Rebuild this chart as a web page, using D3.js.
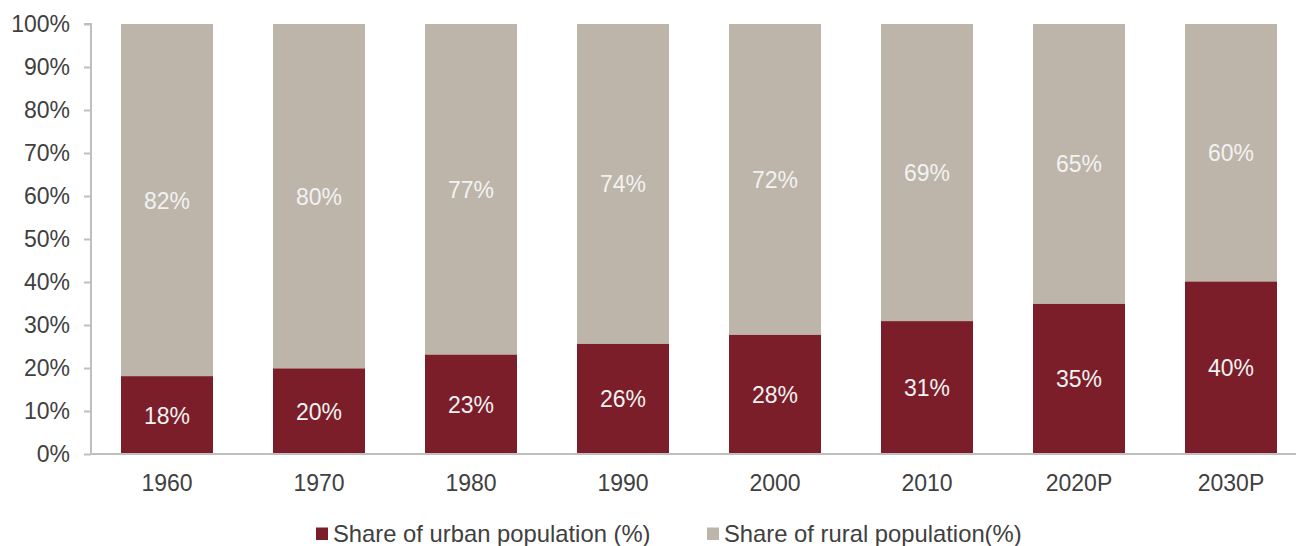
<!DOCTYPE html>
<html><head><meta charset="utf-8">
<script src="https://cdn.jsdelivr.net/npm/d3@7"></script>
<style>body{margin:0;background:#fff;} svg{display:block;font-family:"Liberation Sans",Arial,sans-serif;}</style>
</head><body>
<svg id="c" width="1296" height="546"></svg>
<script>
const categories = ["1960","1970","1980","1990","2000","2010","2020P","2030P"];
const urban = [18, 20, 23, 26, 28, 31, 35, 40];
const rural = [82, 80, 77, 74, 72, 69, 65, 60];
const urbanBar = [18.1, 19.9, 23.1, 25.6, 27.7, 30.9, 34.9, 40.1];
const yTicks = [0,10,20,30,40,50,60,70,80,90,100];
const seriesNames = ["Share of urban population (%)", "Share of rural population(%)"];
const colors = ["#7B1E29", "#BDB5AA"];

const svg = d3.select("#c");
const x0 = 91, step = 152;
const x = d3.scaleBand().domain(categories).range([x0, x0 + step*categories.length])
  .paddingInner(60/152).paddingOuter(30/152);
const y = d3.scaleLinear().domain([0,100]).range([454, 24]);

// y axis
const yAxis = svg.append("g").attr("transform", `translate(${x0},0)`)
  .call(d3.axisLeft(y).tickValues(yTicks).tickFormat(d => d + "%").tickSize(7).tickPadding(14));
yAxis.select(".domain").attr("stroke", "#BFBFBF").attr("stroke-width", 2).attr("d", `M-7,${y(100)}H0V${y(0)}`);
yAxis.selectAll(".tick line").attr("stroke", "#BFBFBF").attr("stroke-width", 2);
yAxis.selectAll(".tick text").attr("fill", "#404040").style("font-size", "23px");

// bars
const g = svg.append("g");
categories.forEach((c, i) => {
  const u = urbanBar[i];
  g.append("rect").attr("x", x(c)).attr("width", x.bandwidth())
    .attr("y", y(100)).attr("height", y(u) - y(100)).attr("fill", colors[1]);
  g.append("rect").attr("x", x(c)).attr("width", x.bandwidth())
    .attr("y", y(u)).attr("height", y(0) - y(u)).attr("fill", colors[0]);
  g.append("text").attr("x", x(c) + x.bandwidth()/2).attr("y", (y(0)+y(u))/2 + 8.5)
    .attr("text-anchor", "middle").attr("fill", "#F2F2F2").style("font-size", "23px").text(urban[i] + "%");
  g.append("text").attr("x", x(c) + x.bandwidth()/2).attr("y", (y(100)+y(u))/2 + 8.5)
    .attr("text-anchor", "middle").attr("fill", "#F2F2F2").style("font-size", "23px").text(rural[i] + "%");
});

// x axis
svg.append("line").attr("x1", x0).attr("x2", 1296).attr("y1", y(0)).attr("y2", y(0))
  .attr("stroke", "#BFBFBF").attr("stroke-width", 2);
categories.forEach(c => {
  svg.append("text").attr("x", x(c) + x.bandwidth()/2).attr("y", 490.5)
    .attr("text-anchor", "middle").attr("fill", "#404040").style("font-size", "23px").text(c);
});

// legend
const legX = [316, 707];
seriesNames.forEach((n, i) => {
  svg.append("rect").attr("x", legX[i]).attr("y", 527.5).attr("width", 12).attr("height", 12.5).attr("fill", colors[i]);
  svg.append("text").attr("x", legX[i] + 17).attr("y", 541.5).attr("fill", "#404040").style("font-size", "23.8px").text(n);
});
</script>
</body></html>
